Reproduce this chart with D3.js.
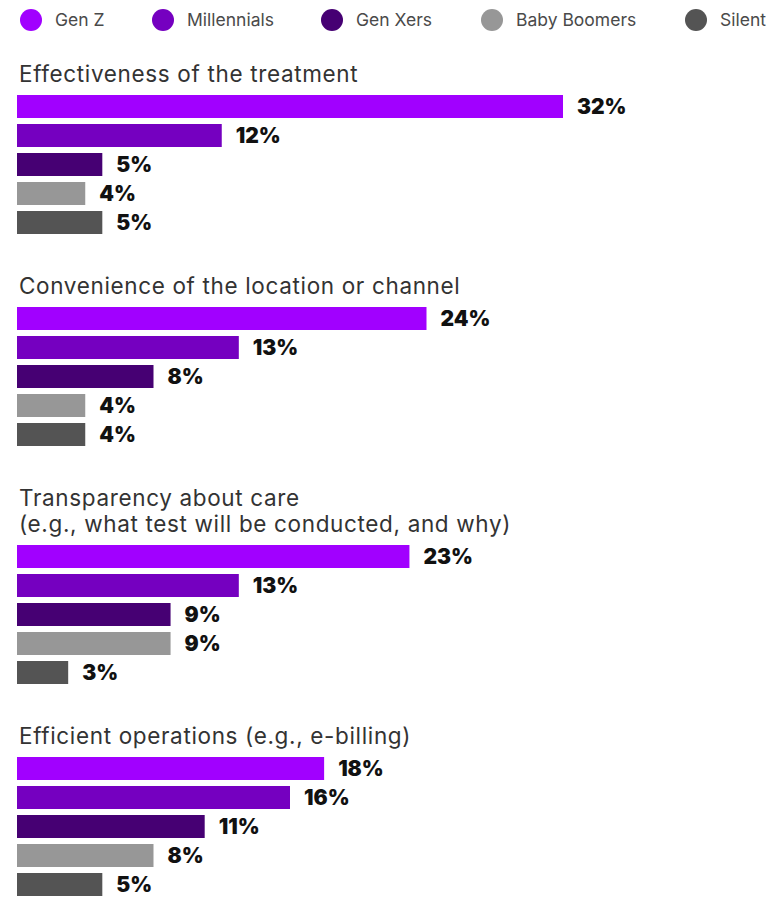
<!DOCTYPE html>
<html>
<head>
<meta charset="utf-8">
<script src="https://cdn.jsdelivr.net/npm/d3@7"></script>
<style>
  html, body { margin: 0; padding: 0; background: #fff; }
  svg { display: block; }
</style>
</head>
<body>
<svg id="chart" width="784" height="897"></svg>
<script>
// Generations shown in the legend and as the five bars of every group
const generations = ["Gen Z", "Millennials", "Gen Xers", "Baby Boomers", "Silent"];
const generationColors = ["#a100ff", "#7500c0", "#460073", "#979797", "#545454"];

// Factor titles (one array entry per line)
const factorTitles = [
  ["Effectiveness of the treatment"],
  ["Convenience of the location or channel"],
  ["Transparency about care", "(e.g., what test will be conducted, and why)"],
  ["Efficient operations (e.g., e-billing)"]
];

// Share of respondents (%) per factor, in generation order
const effectivenessValues = [32, 12, 5, 4, 5];
const convenienceValues = [24, 13, 8, 4, 4];
const transparencyValues = [23, 13, 9, 9, 3];
const efficiencyValues = [18, 16, 11, 8, 5];
const factorValues = [effectivenessValues, convenienceValues, transparencyValues, efficiencyValues];

const svg = d3.select("#chart");
const fontFamily = "Inter, 'Open Sans', 'DejaVu Sans', sans-serif";

// Legend
const legendX = d3.scaleOrdinal().domain(generations).range([31, 163, 332, 492, 696]);
const legend = svg.append("g").attr("class", "legend");
const legendItems = legend.selectAll("g")
  .data(generations)
  .join("g")
  .attr("transform", d => `translate(${legendX(d)},20)`);
legendItems.append("circle")
  .attr("r", 11)
  .attr("fill", (d, i) => generationColors[i]);
legendItems.append("text")
  .attr("x", 24)
  .attr("dy", "0.35em")
  .attr("font-family", fontFamily)
  .attr("font-size", 17.5)
  .attr("fill", "#4a4a4a")
  .text(d => d);

// Horizontal value scale shared by every group
const x = d3.scaleLinear().domain([0, 32]).range([17, 563]);
const barStep = 29;
const barHeight = 23;
const lineHeight = 26;
const y = d3.scaleBand().domain(generations).range([0, barStep * generations.length]).paddingInner(0);

let baseline = 82;
factorTitles.forEach((lines, gi) => {
  const g = svg.append("g").attr("class", "factor");

  g.selectAll("text.title")
    .data(lines)
    .join("text")
    .attr("class", "title")
    .attr("x", 19)
    .attr("y", (d, i) => baseline + i * lineHeight)
    .attr("font-family", fontFamily)
    .attr("font-size", 22.5)
    .attr("letter-spacing", 0.65)
    .attr("fill", "#333")
    .text(d => d);

  const barsTop = baseline + (lines.length - 1) * lineHeight + 13;
  const rows = generations.map((gen, i) => ({ gen, value: factorValues[gi][i], color: generationColors[i] }));

  const bars = g.append("g").attr("transform", `translate(0,${barsTop})`);
  bars.selectAll("rect")
    .data(rows)
    .join("rect")
    .attr("x", x(0))
    .attr("y", d => y(d.gen))
    .attr("width", d => x(d.value) - x(0))
    .attr("height", barHeight)
    .attr("fill", d => d.color);

  bars.selectAll("text")
    .data(rows)
    .join("text")
    .attr("x", d => x(d.value) + 14)
    .attr("y", d => y(d.gen) + barHeight / 2)
    .attr("dy", "0.36em")
    .attr("font-family", fontFamily)
    .attr("font-size", 21)
    .attr("font-weight", 900)
    .attr("fill", "#111")
    .text(d => d.value + "%");

  baseline = barsTop + barStep * (generations.length - 1) + barHeight + 60;
});
</script>
</body>
</html>
